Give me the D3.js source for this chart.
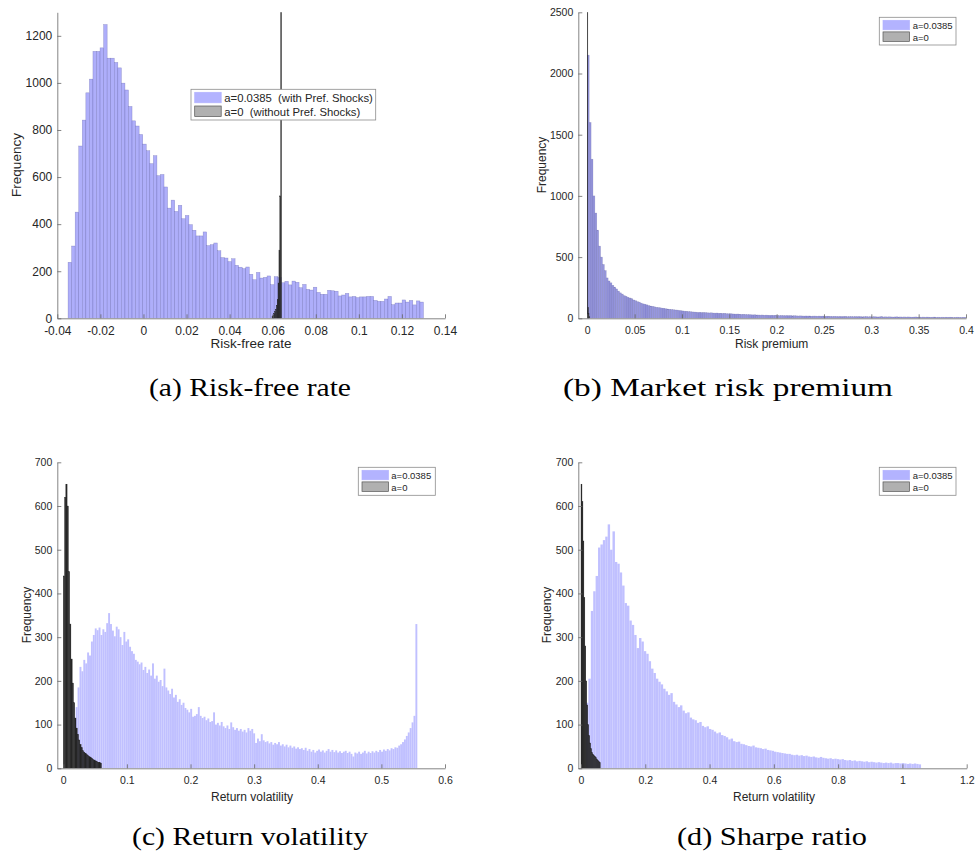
<!DOCTYPE html>
<html>
<head>
<meta charset="utf-8">
<script src="https://cdn.jsdelivr.net/npm/d3@7"></script>
<style>
  body { margin: 0; background: #fff; }
  svg { display: block; }
  text { font-family: "Liberation Sans", Arial, sans-serif; fill: #262626; }
  .caption { font-family: "Liberation Serif", "Times New Roman", serif; fill: #000; }
</style>
</head>
<body>
<svg id="chart" width="975" height="855"></svg>
<script>
// ---- data ----

// (a) risk-free rate
const rfBlueStart = -0.035, rfBlueWidth = 0.00165;
const rfBlue = [238, 307, 451, 732, 842, 958, 1016, 1134, 1134, 1149,
  1248, 1105, 1105, 1087, 1064, 999, 970, 900, 839, 817,
  781, 740, 712, 657, 691, 606, 611, 558, 468, 502,
  454, 480, 423, 437, 398, 374, 350, 350, 367, 309,
  313, 320, 287, 258, 256, 241, 253, 225, 217, 211,
  218, 187, 164, 195, 171, 174, 180, 143, 177, 173,
  151, 157, 142, 158, 153, 130, 144, 123, 120, 132,
  110, 102, 102, 119, 117, 115, 95, 99, 106, 91,
  93, 88, 91, 91, 93, 93, 76, 72, 72, 82,
  93, 58, 65, 65, 78, 69, 76, 57, 74, 69];
const rfBlackStart = 0.0597, rfBlackWidth = 0.0004;
const rfBlack = [8, 14, 20, 28, 38, 55, 80, 150, 290, 520, 20000];

// (b) market risk premium
const rpBlueStart = 0, rpBlueWidth = 0.002;
const rpBlue = [2150, 1600, 1300, 1000, 860, 720, 590, 500, 440, 390,
  330, 305, 290, 270, 255, 240, 222, 208, 198, 185,
  180, 172, 166, 160, 150, 144, 136, 132, 124, 118,
  115, 110, 104, 100, 98, 94, 90, 88, 86, 83,
  82, 78, 76, 74, 72, 70, 68, 67, 64, 62,
  60, 58, 56, 55, 54, 52, 51, 50, 48, 49,
  47, 46, 47, 45, 44, 45, 43, 42, 43, 41,
  41, 40, 41, 38, 37, 38, 36, 35, 34, 35,
  33, 32, 33, 31, 30, 30, 29, 28, 29, 27,
  27, 26, 27, 25, 26, 25, 24, 25, 24, 24,
  23, 22, 23, 22, 21, 22, 21, 22, 20, 21,
  20, 19, 20, 19, 18, 19, 18, 19, 17, 18,
  18, 17, 18, 17, 18, 16, 17, 16, 16, 15,
  16, 15, 14, 15, 14, 15, 14, 13, 14, 14,
  13, 14, 13, 14, 13, 12, 13, 14, 12, 13,
  12, 13, 12, 11, 12, 13, 11, 12, 11, 12,
  11, 10, 11, 12, 10, 11, 10, 11, 10, 11,
  10, 9, 10, 11, 9, 10, 9, 10, 9, 10,
  9, 8, 9, 10, 8, 9, 8, 9, 8, 9,
  8, 9, 8, 7, 8, 9, 8, 7, 8, 8];
const rpBlackStart = 0, rpBlackWidth = 0.0006;
const rpBlack = [26000, 90, 40, 15];

// (c) return volatility
const volBlueStart = 0.0195, volBlueWidth = 0.003;
const volBlue = [140, 185, 232, 222, 248, 240, 265, 258, 290, 305,
  320, 316, 322, 305, 318, 312, 332, 355, 330, 315,
  302, 324, 318, 300, 282, 312, 290, 295, 278, 268,
  262, 248, 244, 238, 242, 225, 232, 218, 226, 212,
  240, 205, 212, 198, 202, 188, 228, 185, 178, 170,
  182, 162, 168, 152, 158, 145, 150, 138, 134, 128,
  136, 118, 120, 124, 140, 120, 115, 118, 110, 114,
  106, 108, 128, 100, 104, 98, 106, 96, 92, 98,
  90, 105, 94, 88, 92, 86, 90, 84, 88, 82,
  92, 86, 90, 80, 58, 68, 62, 78, 64, 60,
  62, 57, 60, 54, 58, 55, 60, 52, 55, 50,
  54, 48, 52, 47, 50, 45, 48, 44, 46, 42,
  47, 40, 44, 38, 42, 36, 40, 43, 38, 41,
  36, 40, 44, 38, 42, 37, 41, 36, 39, 35,
  38, 40, 35, 38, 33, 27, 36, 34, 38, 33,
  36, 40, 34, 38, 35, 39, 36, 40, 37, 42,
  38, 43, 40, 44, 41, 46, 44, 48, 47, 52,
  55, 60, 66, 74, 82, 92, 105, 120, 330];
const volBlackStart = 0, volBlackWidth = 0.002;
const volBlack = [440, 620, 650, 600, 450, 330, 250, 195, 150, 115,
  92, 78, 65, 55, 47, 40, 37, 34, 31, 29,
  27, 25, 23, 20, 19, 17, 15, 14, 13, 12];

// (d) Sharpe ratio
const srBlueStart = 0.0155, srBlueWidth = 0.0075;
const srBlue = [150, 205, 360, 405, 440, 505, 512, 522, 530, 558,
  500, 542, 472, 468, 448, 418, 378, 372, 338, 328,
  305, 275, 298, 290, 268, 262, 245, 228, 218, 205,
  198, 192, 182, 176, 168, 172, 152, 146, 140, 144,
  132, 126, 128, 116, 112, 110, 104, 106, 97, 94,
  96, 90, 88, 84, 80, 82, 76, 74, 71, 66,
  68, 62, 60, 61, 56, 55, 53, 51, 50, 52,
  48, 47, 46, 44, 45, 42, 41, 40, 38, 37,
  36, 35, 34, 33, 33, 31, 30, 31, 29, 30,
  28, 29, 27, 26, 27, 25, 24, 26, 24, 23,
  22, 23, 21, 22, 21, 20, 21, 19, 18, 19,
  17, 18, 16, 17, 16, 15, 16, 14, 15, 14,
  13, 14, 13, 12, 13, 12, 13, 11, 12, 12,
  11, 12, 11, 10, 11, 10, 11, 10, 9];
const srBlackStart = 0, srBlackWidth = 0.003;
const srBlack = [650, 610, 520, 390, 280, 200, 145, 100, 75, 58,
  45, 36, 32, 29, 27, 24, 21, 18, 15, 13];

// ticks and labels
const rfTicksX = [-0.04, -0.02, 0, 0.02, 0.04, 0.06, 0.08, 0.1, 0.12, 0.14];
const rfTicksY = [0, 200, 400, 600, 800, 1000, 1200];
const rpTicksX = [0, 0.05, 0.1, 0.15, 0.2, 0.25, 0.3, 0.35, 0.4];
const rpTicksY = [0, 500, 1000, 1500, 2000, 2500];
const volTicksX = [0, 0.1, 0.2, 0.3, 0.4, 0.5, 0.6];
const srTicksX = [0, 0.2, 0.4, 0.6, 0.8, 1, 1.2];
const freqTicksY = [0, 100, 200, 300, 400, 500, 600, 700];
const rfLegend = ["a=0.0385  (with Pref. Shocks)", "a=0  (without Pref. Shocks)"];
const shortLegend = ["a=0.0385", "a=0"];

const panels = [
  { blue: [rfBlueStart, rfBlueWidth, rfBlue], black: [rfBlackStart, rfBlackWidth, rfBlack],
    xDomain: [-0.04, 0.14], yMax: 1300, xTicks: rfTicksX, yTicks: rfTicksY,
    xLabel: "Risk-free rate", caption: "(a) Risk-free rate", legend: rfLegend,
    box: { l: 57.3, r: 445, t: 12.3, b: 318.3 }, tickFs: 12, labelFs: 13.5,
    yLab: [21, 165], xLab: [251, 348], cap: [250, 396, 202],
    leg: { x: 191, y: 89.3, w: 184.7, h: 30.7, fs: 11.3, ph: 10.5, gap: 13.7, tx: 33.3 },
    blueFill: "#aeaefa", blueStroke: "rgba(70,70,150,0.45)" },
  { blue: [rpBlueStart, rpBlueWidth, rpBlue], black: [rpBlackStart, rpBlackWidth, rpBlack],
    xDomain: [-0.0095, 0.4], yMax: 2500, xTicks: rpTicksX, yTicks: rpTicksY,
    xLabel: "Risk premium", caption: "(b) Market risk premium", legend: shortLegend,
    box: { l: 578.3, r: 966, t: 12.3, b: 318.3 }, tickFs: 10.5, labelFs: 12,
    yLab: [546, 165], xLab: [771.7, 348], cap: [728, 396, 330],
    leg: { x: 879.3, y: 17.3, w: 76.7, h: 27.7, fs: 9.5, ph: 9.5, gap: 11.6, tx: 33.4 },
    blueFill: "#9696de", blueStroke: "rgba(60,60,130,0.3)" },
  { blue: [volBlueStart, volBlueWidth, volBlue], black: [volBlackStart, volBlackWidth, volBlack],
    xDomain: [-0.0094, 0.6], yMax: 700, xTicks: volTicksX, yTicks: freqTicksY,
    xLabel: "Return volatility", caption: "(c) Return volatility", legend: shortLegend,
    box: { l: 57.3, r: 445, t: 462.3, b: 768.3 }, tickFs: 10.5, labelFs: 12,
    yLab: [31, 615], xLab: [252, 801], cap: [250, 845, 236],
    leg: { x: 358.3, y: 467.3, w: 77, h: 28, fs: 9.5, ph: 9.5, gap: 11.6, tx: 33 },
    blueFill: "#c0c0ff", blueStroke: "none" },
  { blue: [srBlueStart, srBlueWidth, srBlue], black: [srBlackStart, srBlackWidth, srBlack],
    xDomain: [-0.0084, 1.2], yMax: 700, xTicks: srTicksX, yTicks: freqTicksY,
    xLabel: "Return volatility", caption: "(d) Sharpe ratio", legend: shortLegend,
    box: { l: 578.3, r: 966.7, t: 462.3, b: 768.3 }, tickFs: 10.5, labelFs: 12,
    yLab: [551, 615], xLab: [774, 801], cap: [772, 845, 190],
    leg: { x: 879.3, y: 467.3, w: 76.7, h: 28, fs: 9.5, ph: 9.5, gap: 11.6, tx: 33.4 },
    blueFill: "#c0c0ff", blueStroke: "none" }
];

const svg = d3.select("#chart");
const fmt = d => String(Math.round(d * 1e6) / 1e6);

function bars(g, x, y, spec, fill, stroke, sw) {
  const [start, width, values] = spec;
  g.append("g").selectAll("rect")
    .data(values)
    .join("rect")
      .attr("x", (d, i) => x(start + i * width))
      .attr("width", (d, i) => x(start + (i + 1) * width) - x(start + i * width))
      .attr("y", d => y(d))
      .attr("height", d => y(0) - y(d))
      .attr("fill", fill)
      .attr("stroke", stroke)
      .attr("stroke-width", sw);
}

panels.forEach((p, k) => {
  const b = p.box;
  const x = d3.scaleLinear().domain(p.xDomain).range([b.l, b.r]);
  const y = d3.scaleLinear().domain([0, p.yMax]).range([b.b, b.t]);
  const g = svg.append("g");

  g.append("clipPath").attr("id", "clip" + k)
    .append("rect")
      .attr("x", b.l).attr("y", b.t)
      .attr("width", b.r - b.l).attr("height", b.b - b.t);

  const plot = g.append("g").attr("clip-path", `url(#clip${k})`);
  bars(plot, x, y, p.blue, p.blueFill, p.blueStroke, 0.5);
  // same-colour stroke closes the hairline seams between the thin black bars
  bars(plot, x, y, p.black, "#262626", "#262626", 0.35);

  // axes, ticks pointing inward like MATLAB
  const ax = g.append("g")
    .attr("transform", `translate(0,${b.b})`)
    .call(d3.axisBottom(x).tickValues(p.xTicks).tickFormat(fmt)
      .tickSizeInner(-4).tickSizeOuter(0).tickPadding(8));
  const ay = g.append("g")
    .attr("transform", `translate(${b.l},0)`)
    .call(d3.axisLeft(y).tickValues(p.yTicks).tickFormat(fmt)
      .tickSizeInner(-4).tickSizeOuter(0).tickPadding(5));
  [ax, ay].forEach(a => {
    a.select(".domain").attr("stroke", "#666").attr("stroke-width", 0.8);
    a.selectAll(".tick line").attr("stroke", "#666").attr("stroke-width", 0.8);
    a.selectAll(".tick text")
      .attr("fill", "#262626")
      .style("font-family", '"Liberation Sans", Arial, sans-serif')
      .style("font-size", p.tickFs + "px");
  });

  g.append("text")
    .attr("transform", `translate(${p.yLab[0]},${p.yLab[1]}) rotate(-90)`)
    .attr("text-anchor", "middle")
    .style("font-size", p.labelFs + "px")
    .text("Frequency");
  g.append("text")
    .attr("x", p.xLab[0]).attr("y", p.xLab[1])
    .attr("text-anchor", "middle")
    .style("font-size", p.labelFs + "px")
    .text(p.xLabel);

  // legend
  const L = p.leg;
  const lg = g.append("g");
  lg.append("rect")
    .attr("x", L.x).attr("y", L.y).attr("width", L.w).attr("height", L.h)
    .attr("fill", "#fff").attr("stroke", "#8c8c8c").attr("stroke-width", 0.8);
  const swatch = [["#b3b3ff", "#b3b3ff"], ["#b0b0b0", "#555"]];
  p.legend.forEach((lab, i) => {
    const ry = L.y + 3 + i * L.gap;
    lg.append("rect")
      .attr("x", L.x + 3.7).attr("y", ry)
      .attr("width", 26.5).attr("height", L.ph)
      .attr("fill", swatch[i][0]).attr("stroke", swatch[i][1]).attr("stroke-width", 0.7);
    lg.append("text")
      .attr("x", L.x + L.tx).attr("y", ry + L.ph - 0.9)
      .attr("xml:space", "preserve")
      .style("white-space", "pre")
      .style("font-size", L.fs + "px")
      .text(lab);
  });

  g.append("text")
    .attr("class", "caption")
    .attr("x", p.cap[0]).attr("y", p.cap[1])
    .attr("text-anchor", "middle")
    .attr("textLength", p.cap[2])
    .attr("lengthAdjust", "spacingAndGlyphs")
    .style("font-size", "26px")
    .text(p.caption);
});
</script>
</body>
</html>
